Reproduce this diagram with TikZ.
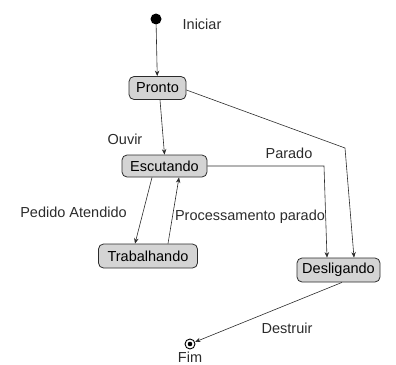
\documentclass[tikz,border=0pt]{standalone}
\usepackage{fontspec}
\setmainfont{Liberation Sans}
\usepackage{tikz}
\usetikzlibrary{arrows.meta,positioning,calc}
\definecolor{ink}{HTML}{2B2B2B}
\definecolor{shade}{HTML}{D4D4D4}
\tikzset{
  state/.style={rectangle, rounded corners=5pt, draw=ink, fill=shade, line width=0.8pt,
                align=center, inner sep=3pt, minimum height=23pt, font=\fontsize{14.5}{16}\selectfont},
  startdot/.style={circle, fill=black, inner sep=0pt, minimum size=11pt},
  enddot/.style={circle, draw=black, line width=0.9pt, fill=white, inner sep=0pt, minimum size=10pt},
  lbl/.style={font=\fontsize{14.5}{16}\selectfont, text=ink, inner sep=0pt},
  flow/.style={-{Stealth[length=5.5pt,width=4.5pt]}, draw=ink, line width=0.6pt}
}

\begin{document}
\begin{tikzpicture}[x=1pt, y=-1pt]
\useasboundingbox (0,0) rectangle (396,364);

% --- start
\node[startdot] (ini) at (156,19) {};
\node[lbl] (inilbl) at (202,24) {Iniciar};

% --- states
\node[state, minimum width=57pt] (pronto) at (157.5,88) {Pronto};
\node[state, minimum width=85pt, minimum height=22pt] (esc) at (164.5,166) {Escutando};
\node[state, minimum width=99pt, minimum height=24pt] (trab) at (148,256) {Trabalhando};
\node[state, minimum width=83pt, minimum height=24pt] (desl) at (338.5,270) {Desligando};

% --- end
\node[enddot] (fim) at (190,344) {};
\fill (fim) circle (2.3pt);
\node[lbl, below=2pt of fim] (fimlbl) {Fim};

% --- bends
\coordinate (cpar) at (324,166);
\coordinate (cdes) at (345,148);

\draw[flow] (ini)--(pronto);
\draw[flow] ([xshift=2.5pt]pronto.south)--(esc.north);
\draw[flow] ([xshift=-12.5pt]esc.south)--([xshift=-13pt]trab.north);
\draw[flow] ([xshift=20pt]trab.north)--([xshift=14.5pt]esc.south);
\draw[flow] (esc.east)--(cpar)--([xshift=-11.5pt]desl.north);
\draw[flow] ([yshift=-2pt]pronto.east)--(cdes)--([xshift=15.5pt]desl.north);
\draw[flow] ([xshift=3.5pt]desl.south)--(fim);

% --- labels
\node[lbl] (ouvir) at (125,139) {Ouvir};
\node[lbl] (parado) at (289,153) {Parado};
\node[lbl] (pedido) at (73.5,212) {Pedido Atendido};
\node[lbl] (proc) at (250,217) {Processamento parado};
\node[lbl] (destr) at (287,328) {Destruir};
\end{tikzpicture}
\end{document}
